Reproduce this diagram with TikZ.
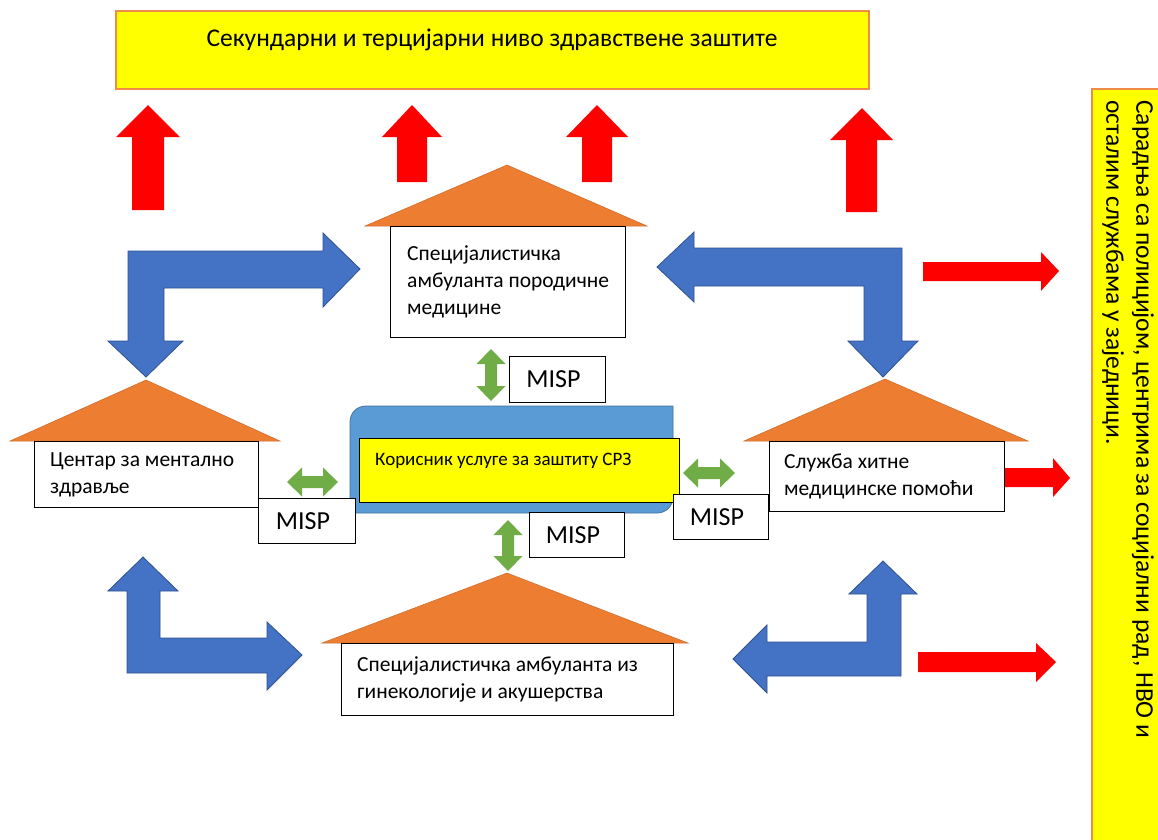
\documentclass[tikz,border=0pt]{standalone}
\usepackage{fontspec}
\setmainfont{Carlito}
\definecolor{cRed}{HTML}{FF0000}
\definecolor{cBlue}{HTML}{4472C4}
\definecolor{cBlueD}{HTML}{2F528F}
\definecolor{cOrange}{HTML}{ED7D31}
\definecolor{cOrangeB}{HTML}{F08A4B}
\definecolor{cGreen}{HTML}{70AD47}
\definecolor{cYellow}{HTML}{FFFF00}
\definecolor{cCenter}{HTML}{5B9BD5}
\definecolor{cCenterD}{HTML}{41719C}
\newcommand\hdarr[3]{% x1 x2 y
  \fill[cGreen] (#1,#3) -- ({#1+15},{#3-14.5}) -- ({#1+15},{#3-6}) -- ({#2-15},{#3-6}) -- ({#2-15},{#3-14.5}) -- (#2,#3)
   -- ({#2-15},{#3+14.5}) -- ({#2-15},{#3+6}) -- ({#1+15},{#3+6}) -- ({#1+15},{#3+14.5}) -- cycle;}
\newcommand\vdarr[3]{% x y1 y2
  \fill[cGreen] (#1,#2) -- ({#1+14.5},{#2+15}) -- ({#1+6},{#2+15}) -- ({#1+6},{#3-15}) -- ({#1+14.5},{#3-15}) -- (#1,#3)
   -- ({#1-14.5},{#3-15}) -- ({#1-6},{#3-15}) -- ({#1-6},{#2+15}) -- ({#1-14.5},{#2+15}) -- cycle;}
\begin{document}
\begin{tikzpicture}[x=1pt,y=-1pt,
  tbox/.style={draw=black, fill=white, line width=0.8pt, inner sep=0pt, anchor=north west},
  txt/.style={align=left, inner sep=0pt, anchor=west, font=\fontsize{21.5}{27}\selectfont},
  misp/.style={draw=black, fill=white, line width=0.8pt, inner sep=0pt, anchor=north west},
  misptxt/.style={inner sep=0pt, font=\fontsize{26}{30}\selectfont},
  roof/.style={fill=cOrange, draw=cOrange!85!black, line width=0.5pt},
  bluearr/.style={fill=cBlue, draw=cBlueD, line width=0.8pt},
  redarr/.style={fill=cRed},
  ybox/.style={fill=cYellow, draw=cOrangeB, line width=1.5pt, inner sep=0pt, anchor=north west}]
\useasboundingbox (0,0) rectangle (1158,839);
\fill[white] (0,0) rectangle (1158,839);

% top box
\node[ybox, minimum width=753pt, minimum height=78pt] (sec) at (115,10) {};
\node[anchor=base, inner sep=0pt, font=\fontsize{25.5}{30}\selectfont] (sect) at (492,46) {Секундарни и терцијарни ниво здравствене заштите};

% right box
\node[ybox, minimum width=90pt, minimum height=770pt] (coop) at (1091,88) {};
\node[rotate=-90, anchor=north west, align=left, inner sep=0pt, font=\fontsize{25.5}{30}\selectfont] (coopt) at (1154,100) {Сарадња са полицијом, центрима за социјални рад, НВО и\\осталим службама у заједници.};

% red up arrows
\fill[redarr] (148,105) -- (180,137) -- (164,137) -- (164,210) -- (132,210) -- (132,137) -- (116,137) -- cycle;
\fill[redarr] (412,105) -- (442,137) -- (427,137) -- (427,182) -- (397,182) -- (397,137) -- (382,137) -- cycle;
\fill[redarr] (597,105) -- (628,137) -- (612,137) -- (612,182) -- (582,182) -- (582,137) -- (566,137) -- cycle;
\fill[redarr] (862,108) -- (893,140) -- (877,140) -- (877,212) -- (846,212) -- (846,140) -- (830,140) -- cycle;

% red right arrows
\fill[redarr] (923,262) -- (1041,262) -- (1041,252) -- (1059,271) -- (1041,291) -- (1041,281) -- (923,281) -- cycle;
\fill[redarr] (999,468) -- (1053,468) -- (1053,458) -- (1070,478) -- (1053,497) -- (1053,487) -- (999,487) -- cycle;
\fill[redarr] (918,652) -- (1036,652) -- (1036,643) -- (1056,662) -- (1036,682) -- (1036,672) -- (918,672) -- cycle;

% blue bent arrows
\draw[bluearr] (128,341) -- (128,251) -- (323,251) -- (323,233) -- (360,269) -- (323,307) -- (323,288) -- (164,288) -- (164,341) -- (183,341) -- (146,377) -- (108,341) -- cycle;
\draw[bluearr] (657,267) -- (694,232) -- (694,248) -- (902,248) -- (902,341) -- (918,341) -- (883,377) -- (848,341) -- (864,341) -- (864,286) -- (694,286) -- (694,302) -- cycle;
\draw[bluearr] (143,557) -- (178,591) -- (160,591) -- (160,638) -- (267,638) -- (267,622) -- (302,655) -- (267,690) -- (267,673) -- (127,673) -- (127,591) -- (108,591) -- cycle;
\draw[bluearr] (883,561) -- (917,594) -- (901,594) -- (901,676) -- (767,676) -- (767,693) -- (733,659) -- (767,625) -- (767,642) -- (867,642) -- (867,594) -- (849,594) -- cycle;

% roofs
\draw[roof] (507,165) -- (647,226) -- (365,226) -- cycle;
\draw[roof] (146,380) -- (280,441) -- (10,441) -- cycle;
\draw[roof] (885,379) -- (1028,441) -- (744,441) -- cycle;
\draw[roof] (507,573) -- (688,643) -- (322,643) -- cycle;

% house boxes
\node[tbox, minimum width=235pt, minimum height=111pt] (fam) at (390,226) {};
\node[txt] (famt) at ([xshift=17pt]fam.west) {Специјалистичка\\амбуланта породичне\\медицине};
\node[tbox, minimum width=224pt, minimum height=66pt] (ment) at (34,441) {};
\node[txt] (mentt) at ([xshift=16pt]ment.west) {Центар за ментално\\здравље};
\node[tbox, minimum width=235pt, minimum height=70pt] (emer) at (769,441) {};
\node[txt] (emert) at ([xshift=15pt]emer.west) {Служба хитне\\медицинске помоћи};
\node[tbox, minimum width=332pt, minimum height=72pt] (gyn) at (341,643) {};
\node[txt] (gynt) at ([xshift=16pt]gyn.west) {Специјалистичка амбуланта из\\гинекологије и акушерства};

% center
\filldraw[fill=cCenter, draw=cCenterD, line width=0.8pt] (350,513) -- (350,422) .. controls (350,413) and (357,406) .. (366,406) -- (673,406) -- (673,497) .. controls (673,506) and (666,513) .. (657,513) -- cycle;
\node[tbox, fill=cYellow, minimum width=320pt, minimum height=64pt] (user) at (359,438) {};
\node[anchor=base west, inner sep=0pt, font=\fontsize{19}{22}\selectfont] (usert) at (375,465) {Корисник услуге за заштиту СРЗ};

% MISP boxes
\node[misp, minimum width=96pt, minimum height=46pt] (m1) at (509,356) {};
\node[misptxt] (m1t) at ([xshift=-4pt]m1.center) {MISP};
\node[misp, minimum width=97pt, minimum height=45pt] (m2) at (258,498) {};
\node[misptxt] (m2t) at ([xshift=-4pt]m2.center) {MISP};
\node[misp, minimum width=95pt, minimum height=45pt] (m3) at (529,512) {};
\node[misptxt] (m3t) at ([xshift=-4pt]m3.center) {MISP};
\node[misp, minimum width=95pt, minimum height=45pt] (m4) at (673,494) {};
\node[misptxt] (m4t) at ([xshift=-4pt]m4.center) {MISP};

% green double arrows
\hdarr{287}{338}{482}
\hdarr{683}{735}{473}
\vdarr{491}{349}{401}
\vdarr{508}{520}{571}
\end{tikzpicture}
\end{document}
